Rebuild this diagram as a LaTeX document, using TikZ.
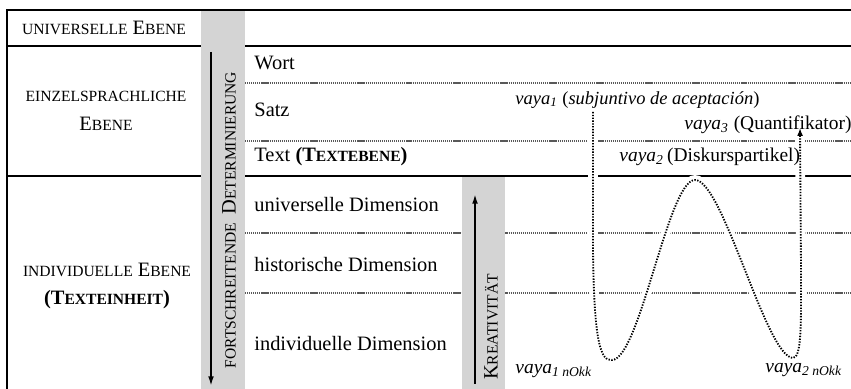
\documentclass[tikz,border=0pt]{standalone}
\usepackage{fontspec}
\setmainfont{Liberation Serif}
\usetikzlibrary{arrows.meta}
% Kapitälchen (Liberation Serif hat keine echten)
\newcommand{\ksc}[1]{{\fontsize{8}{9.5}\selectfont\MakeUppercase{#1}}}
\newcommand{\vaya}[1]{\textit{vaya\textsubscript{#1}}}

\begin{document}
\begin{tikzpicture}[x=0.01806cm, y=-0.01806cm,
    every node/.style={font=\fontsize{10.5}{12.6}\selectfont},
    trennlinie/.style={line width=0.7pt},
    punktlinie/.style={black!65, line width=0.75pt, dash pattern=on 0.6pt off 0.45pt},
    band/.style={fill=black!17},
    pfeil/.style={line width=0.9pt, -{Latex[length=5pt,width=3pt]}},
    eintrag/.style={anchor=west, inner sep=0pt},
    ebene/.style={align=center, inner sep=0pt},
    bandtext/.style={rotate=90, inner sep=0pt},
    beschr/.style={anchor=west, inner sep=0pt, font=\fontsize{10}{12}\selectfont},
    kurve/.style={line width=0.95pt, dash pattern=on 0.7pt off 0.75pt,
        -{Latex[length=4pt,width=3pt]},
        preaction={draw=white, solid, line width=5pt, -}}]
    \clip (0,0) rectangle (851,389);

    % Linien
    \draw[punktlinie] (245,83) -- (851,83);
    \draw[punktlinie] (245,141) -- (851,141);
    \draw[punktlinie] (245,233) -- (851,233);
    \draw[punktlinie] (245,293) -- (851,293);
    \draw[trennlinie] (7,46) -- (851,46);
    \draw[trennlinie] (7,176) -- (851,176);

    % graue Bänder
    \fill[band] (201,10) rectangle (245,389);
    \fill[band] (462,177) rectangle (505,389);
    \draw[trennlinie] (7,389) -- (7,10) -- (851,10);

    % Pfeile in den Bändern
    \coordinate (detO) at (211,52);
    \coordinate (detU) at (211,386);
    \draw[pfeil] (detO) -- (detU);
    \node[bandtext] (det) at (229,220) {\ksc{fortschreitende} \,D\ksc{eterminierung}};
    \coordinate (kreU) at (475,384);
    \coordinate (kreO) at (475,194);
    \draw[pfeil] (kreU) -- (kreO);
    \node[bandtext] (kre) at (491,327) {K\ksc{reativität}};

    % Ebenen links
    \node[ebene] (univ) at (104,28) {\ksc{universelle} E\ksc{bene}};
    \node[ebene] (einz) at (106,111) {\ksc{einzelsprachliche}\\[2pt] E\ksc{bene}};
    \node[ebene] (indiv) at (107,286) {\ksc{individuelle} E\ksc{bene}\\[2pt] \textbf{(T\ksc{exteinheit})}};

    % Einträge rechts
    \node[eintrag] (wort) at (254,63) {Wort};
    \node[eintrag] (satz) at (254,110) {Satz};
    \node[eintrag] (text) at (254,157) {Text \textbf{(T\ksc{extebene})}};
    \node[eintrag] (udim) at (254,205) {universelle Dimension};
    \node[eintrag] (hdim) at (254,265) {historische Dimension};
    \node[eintrag] (idim) at (254,344) {individuelle Dimension};

    % Kurve
    \coordinate (start) at (593,112);
    \coordinate (min1) at (612,360);
    \coordinate (max) at (695,180);
    \coordinate (min2) at (793,358);
    \coordinate (ziel) at (800,128);
    \draw[kurve] (start) -- (593,250) .. controls (594,345) and (601,361) .. (min1)
        .. controls (640,359) and (668,180) .. (max)
        .. controls (723,180) and (766,357) .. (min2)
        .. controls (802,358) and (801,320) .. (801,270) -- (ziel);

    % vaya-Beschriftungen
    \node[beschr, font=\fontsize{9.5}{11}\selectfont] (v1) at (515,100) {\vaya{1} (\textit{subjuntivo de aceptación})};
    \node[beschr] (v3) at (684,125) {\vaya{3} (Quantifikator)};
    \node[beschr] (v2) at (619,157) {\vaya{2}\,(Diskurspartikel)};
    \node[beschr] (v1n) at (515,371) {\vaya{1 nOkk}};
    \node[beschr] (v2n) at (765,370) {\vaya{2 nOkk}};
\end{tikzpicture}
\end{document}
